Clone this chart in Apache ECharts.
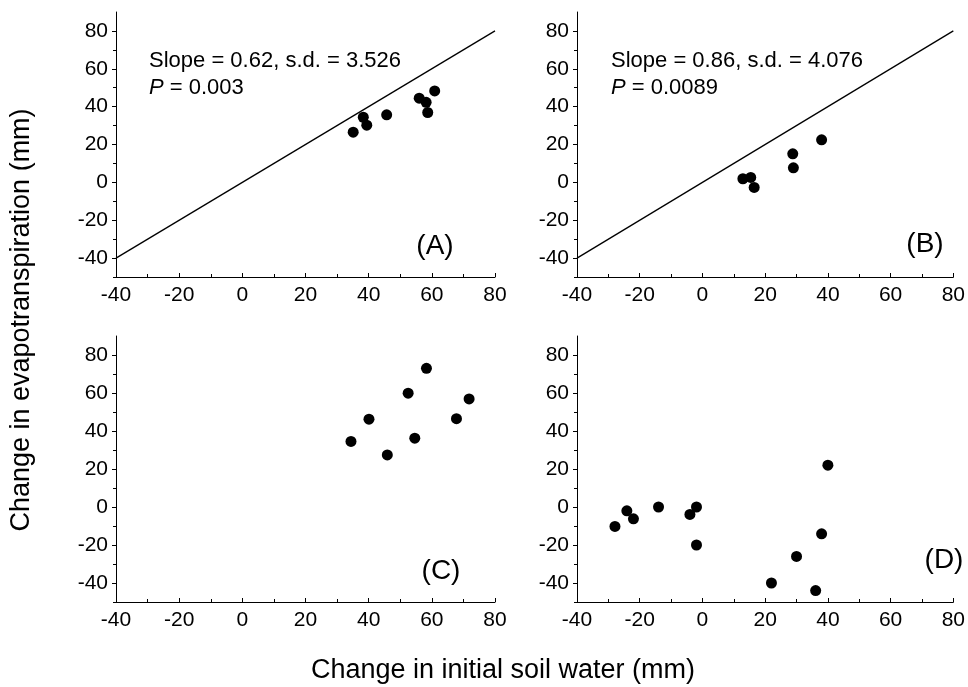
<!DOCTYPE html>
<html>
<head>
<meta charset="utf-8">
<script src="https://cdn.jsdelivr.net/npm/echarts@6/dist/echarts.min.js"></script>
<style>
    html, body { margin: 0; padding: 0; background: #fff; }
    #chart { width: 968px; height: 687px; }
</style>
</head>
<body>
<div id="chart"></div>
<script>
// 数据：四个面板的散点 [初始土壤水变化, 蒸散变化]
var pointsA = [[35.1, 26.5], [38.3, 34.4], [39.4, 30.2], [45.7, 35.7], [56.0, 44.5], [58.2, 42.3], [58.7, 36.9], [60.9, 48.3]];
var pointsB = [[12.9, 1.9], [15.4, 2.6], [16.5, -2.7], [28.8, 15.1], [29.0, 7.7], [38.0, 22.5]];
var pointsC = [[34.4, 34.5], [40.1, 46.2], [45.9, 27.4], [52.5, 59.9], [54.6, 36.2], [58.3, 73.0], [67.8, 46.5], [71.8, 56.9]];
var pointsD = [[-27.9, -10.2], [-24.1, -2.0], [-22.0, -6.2], [-14.0, 0.0], [-4.0, -3.9], [-1.9, 0.0], [-1.9, -20.0],
    [22.0, -40.0], [30.0, -26.0], [36.1, -44.0], [38.0, -14.1], [40.0, 22.0]];
// 1:1 线
var oneToOne = [[-40, -40], [80, 80]];
// 刻度
var yMajorTicks = [-40, -20, 0, 20, 40, 60, 80];
var yMinorTicks = [-50, -30, -10, 10, 30, 50, 70];
var panelLabels = ['(A)', '(B)', '(C)', '(D)'];
var statsA = ['Slope = 0.62, s.d. = 3.526', '0.003'];
var statsB = ['Slope = 0.86, s.d. = 4.076', '0.0089'];

var FONT = 'Liberation Sans, Arial, sans-serif';
var chart = echarts.init(document.getElementById('chart'));

var grids = [
    {left: 116, top: 12, width: 379, height: 265},
    {left: 577, top: 12, width: 379, height: 265},
    {left: 116, top: 336, width: 379, height: 266},
    {left: 577, top: 336, width: 379, height: 266}
];

var xAxes = [];
var yAxes = [];
grids.forEach(function (g, i) {
    xAxes.push({
        type: 'value', gridIndex: i, min: -40, max: 80, interval: 20,
        axisLine: {show: true, onZero: false, lineStyle: {color: '#000', width: 1}},
        axisTick: {show: true, inside: true, length: 4, lineStyle: {color: '#000'}},
        minorTick: {show: true, splitNumber: 2, length: 3, lineStyle: {color: '#000'}},
        axisLabel: {color: '#000', fontSize: 21, fontFamily: FONT, margin: 8},
        splitLine: {show: false}
    });
    // 主刻度 + 标签
    yAxes.push({
        type: 'value', gridIndex: i, min: -50, max: 90,
        axisLine: {show: true, onZero: false, lineStyle: {color: '#000', width: 1}},
        axisTick: {show: true, length: 4, customValues: yMajorTicks, lineStyle: {color: '#000'}},
        axisLabel: {color: '#000', fontSize: 21, fontFamily: FONT, margin: 8, customValues: yMajorTicks},
        splitLine: {show: false}
    });
});
// 次刻度（叠加的 y 轴）
grids.forEach(function (g, i) {
    yAxes.push({
        type: 'value', gridIndex: i, min: -50, max: 90, position: 'left',
        axisLine: {show: false, onZero: false},
        axisTick: {show: true, length: 3, customValues: yMinorTicks, lineStyle: {color: '#000'}},
        axisLabel: {show: false},
        splitLine: {show: false}
    });
});

function scatter(i, data) {
    return {
        type: 'scatter', xAxisIndex: i, yAxisIndex: i, data: data,
        symbolSize: 11, itemStyle: {color: '#000', opacity: 1}, silent: true
    };
}

function line(i) {
    return {
        type: 'line', xAxisIndex: i, yAxisIndex: i, data: oneToOne,
        symbol: 'none', lineStyle: {color: '#000', width: 1.3}, silent: true, z: 1
    };
}

function statsText(left, top, lines) {
    return {
        left: left, top: top,
        text: lines[0] + '\n{i|P} = ' + lines[1],
        textStyle: {
            color: '#000', fontSize: 22, fontWeight: 'normal', fontFamily: FONT, lineHeight: 27,
            rich: {i: {fontStyle: 'italic', fontSize: 22, fontFamily: FONT, color: '#000'}}
        }
    };
}

function panelTitle(text, cx, cy) {
    return {
        left: cx, top: cy, textAlign: 'center', textVerticalAlign: 'middle',
        text: text,
        textStyle: {color: '#000', fontSize: 28, fontWeight: 'normal', fontFamily: FONT}
    };
}

chart.setOption({
    backgroundColor: '#fff',
    animation: false,
    title: [
        statsText(144, 42, statsA),
        statsText(606, 42, statsB),
        panelTitle(panelLabels[0], 430, 241),
        panelTitle(panelLabels[1], 920, 239),
        panelTitle(panelLabels[2], 436, 566),
        panelTitle(panelLabels[3], 939, 555)
    ],
    graphic: [
        {
            type: 'text', x: 22, y: 320, rotation: Math.PI / 2,
            style: {
                text: 'Change in evapotranspiration (mm)', fill: '#000',
                font: '27px ' + FONT, align: 'center', verticalAlign: 'middle'
            }
        },
        {
            type: 'text', x: 503, y: 671,
            style: {
                text: 'Change in initial soil water (mm)', fill: '#000',
                font: '27px ' + FONT, align: 'center', verticalAlign: 'middle'
            }
        }
    ],
    grid: grids,
    xAxis: xAxes,
    yAxis: yAxes,
    series: [
        line(0), scatter(0, pointsA),
        line(1), scatter(1, pointsB),
        scatter(2, pointsC),
        scatter(3, pointsD)
    ]
});
</script>
</body>
</html>
